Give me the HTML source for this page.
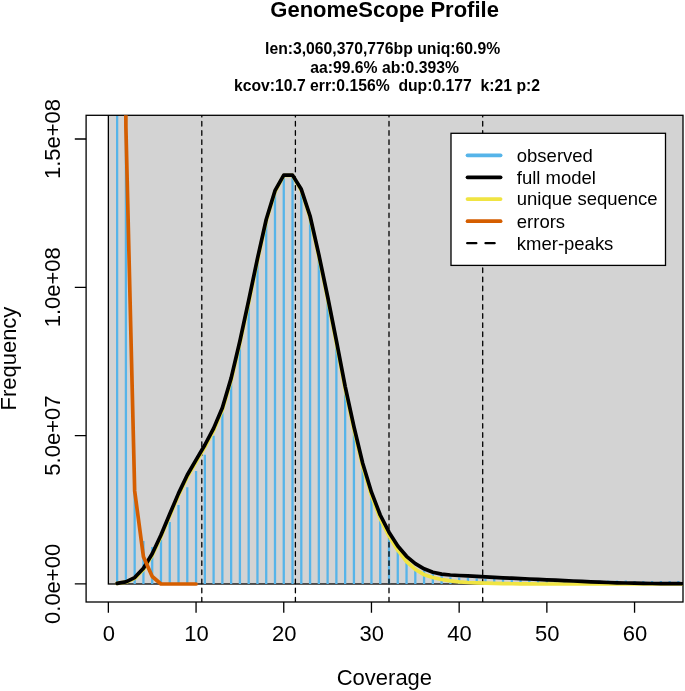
<!DOCTYPE html>
<html><head><meta charset="utf-8"><title>GenomeScope Profile</title>
<style>html,body{margin:0;padding:0;background:#fff;}body{width:685px;height:691px;overflow:hidden;font-family:"Liberation Sans", sans-serif;}svg{display:block;will-change:transform;}</style>
</head><body>
<svg width="685" height="691" viewBox="0 0 685 691" font-family='"Liberation Sans", sans-serif'>
<rect width="685" height="691" fill="#fff"/>
<defs><clipPath id="pr"><rect x="86.1" y="115.3" width="596.9" height="486.7"/></clipPath></defs>
<g clip-path="url(#pr)">
<rect x="108.36" y="95.3" width="594.64" height="488.70" fill="#D3D3D3" stroke="#000" stroke-width="1.3"/>
<path d="M117.13 584.0V-100.00M125.90 584.0V-100.00M134.67 584.0V483.00M143.44 584.0V540.90M152.21 584.0V546.90M160.98 584.0V539.50M169.75 584.0V522.10M178.52 584.0V505.10M187.29 584.0V487.20M196.06 584.0V471.10M204.83 584.0V454.80M213.60 584.0V435.70M222.37 584.0V412.40M231.14 584.0V379.60M239.91 584.0V342.50M248.68 584.0V301.90M257.45 584.0V260.10M266.22 584.0V221.00M274.99 584.0V192.20M283.76 584.0V176.70M292.53 584.0V176.60M301.30 584.0V190.80M310.07 584.0V217.50M318.84 584.0V256.20M327.61 584.0V298.00M336.38 584.0V342.20M345.15 584.0V387.80M353.92 584.0V428.20M362.69 584.0V464.70M371.46 584.0V493.70M380.23 584.0V516.50M389.00 584.0V536.00M397.77 584.0V551.50M406.54 584.0V562.00M415.31 584.0V568.50M424.08 584.0V570.50M432.85 584.0V573.50M441.62 584.0V575.80M450.39 584.0V577.20M459.16 584.0V577.60M467.93 584.0V578.00M476.70 584.0V578.40M485.47 584.0V578.80M494.24 584.0V579.10M503.01 584.0V579.30M511.78 584.0V579.50M520.55 584.0V579.90M529.32 584.0V579.90M538.09 584.0V579.90M546.86 584.0V579.90M555.63 584.0V579.90M564.40 584.0V579.90M573.17 584.0V579.90M581.94 584.0V579.90M590.71 584.0V580.40M599.48 584.0V580.40M608.25 584.0V580.40M617.02 584.0V580.40M625.79 584.0V580.40M634.56 584.0V580.90M643.33 584.0V580.90M652.10 584.0V580.90M660.87 584.0V580.90M669.64 584.0V580.90M678.41 584.0V580.90M687.18 584.0V580.90M695.95 584.0V580.90" stroke="#56B4E9" stroke-width="2.29" fill="none"/>
</g>
<rect x="86.1" y="115.3" width="596.90" height="486.70" fill="none" stroke="#000" stroke-width="1.3"/>
<g clip-path="url(#pr)" fill="none" stroke-linejoin="round" stroke-linecap="round">
<line x1="201.8" y1="602.0" x2="201.8" y2="115.3" stroke="#000" stroke-width="1.3" stroke-dasharray="4.576 4.576" stroke-linecap="round"/>
<line x1="295.4" y1="602.0" x2="295.4" y2="115.3" stroke="#000" stroke-width="1.3" stroke-dasharray="4.576 4.576" stroke-linecap="round"/>
<line x1="389.0" y1="602.0" x2="389.0" y2="115.3" stroke="#000" stroke-width="1.3" stroke-dasharray="4.576 4.576" stroke-linecap="round"/>
<line x1="482.7" y1="602.0" x2="482.7" y2="115.3" stroke="#000" stroke-width="1.3" stroke-dasharray="4.576 4.576" stroke-linecap="round"/>
<polyline points="117.13,583.40 125.90,582.20 134.67,578.40 143.44,569.40 152.21,555.30 160.98,536.65 169.75,515.80 178.52,495.30 187.29,477.00 196.06,461.83 204.83,447.07 213.60,430.50 222.37,409.82 231.14,380.25 239.91,343.18 248.68,302.60 257.45,260.37 266.22,220.83 274.99,191.60 283.76,175.50 292.53,175.40 301.30,190.20 310.07,217.45 318.84,256.70 327.61,298.70 336.38,343.10 345.15,388.90 353.92,429.50 362.69,466.20 371.46,495.50 380.23,518.60 389.00,536.10 397.77,550.20 406.54,561.50 415.31,569.30 424.08,574.70 432.85,577.50 441.62,579.50 450.39,580.90 459.16,581.90 467.93,582.50 476.70,582.90 485.47,583.20 494.24,583.45 503.01,583.60 511.78,583.75 520.55,583.85 529.32,583.90 538.09,584.00 546.86,584.00 555.63,584.00 564.40,584.00 573.17,584.00 581.94,584.00 590.71,584.00 599.48,584.00 608.25,584.00 617.02,584.00 625.79,584.00 634.56,584.00 643.33,584.00 652.10,584.00 660.87,584.00 669.64,584.00 678.41,584.00 687.18,584.00 695.95,584.00 704.72,584.00" stroke="#F0E442" stroke-width="3.7"/>
<polyline points="117.13,583.40 125.90,581.90 134.67,577.60 143.44,568.20 152.21,553.80 160.98,535.00 169.75,514.00 178.52,493.40 187.29,475.00 196.06,459.80 204.83,445.00 213.60,428.40 222.37,407.70 231.14,378.10 239.91,341.00 248.68,300.40 257.45,258.60 266.22,219.50 274.99,190.70 283.76,175.20 292.53,175.10 301.30,189.30 310.07,216.00 318.84,254.70 327.61,296.50 336.38,340.70 345.15,386.30 353.92,426.70 362.69,463.20 371.46,492.20 380.23,515.00 389.00,532.20 397.77,546.00 406.54,556.30 415.31,563.60 424.08,568.80 432.85,572.20 441.62,574.10 450.39,575.00 459.16,575.50 467.93,575.90 476.70,576.30 485.47,576.90 494.24,577.40 503.01,577.80 511.78,578.20 520.55,578.60 529.32,579.00 538.09,579.40 546.86,579.80 555.63,580.20 564.40,580.60 573.17,581.00 581.94,581.40 590.71,581.80 599.48,582.20 608.25,582.50 617.02,582.80 625.79,583.00 634.56,583.20 643.33,583.35 652.10,583.50 660.87,583.60 669.64,583.65 678.41,583.70 687.18,583.75 695.95,583.80 704.72,583.85" stroke="#000" stroke-width="3.7"/>
<polyline points="117.13,-3000.00 125.90,127.00 134.67,490.90 143.44,556.80 152.21,576.50 160.98,584.00 169.75,584.00 178.52,584.00 187.29,584.00 196.06,584.00" stroke="#D55E00" stroke-width="3.7"/>
</g>
<path d="M108.36 602.0V612.8M196.06 602.0V612.8M283.76 602.0V612.8M371.46 602.0V612.8M459.16 602.0V612.8M546.86 602.0V612.8M634.56 602.0V612.8M86.1 583.90H74.8M86.1 435.60H74.8M86.1 287.30H74.8M86.1 139.00H74.8" stroke="#000" stroke-width="1.3" fill="none"/>
<text transform="translate(108.76 641.30) scale(1 1.04)" font-size="22" text-anchor="middle">0</text>
<text transform="translate(196.46 641.30) scale(1 1.04)" font-size="22" text-anchor="middle">10</text>
<text transform="translate(284.16 641.30) scale(1 1.04)" font-size="22" text-anchor="middle">20</text>
<text transform="translate(371.86 641.30) scale(1 1.04)" font-size="22" text-anchor="middle">30</text>
<text transform="translate(459.56 641.30) scale(1 1.04)" font-size="22" text-anchor="middle">40</text>
<text transform="translate(547.26 641.30) scale(1 1.04)" font-size="22" text-anchor="middle">50</text>
<text transform="translate(634.96 641.30) scale(1 1.04)" font-size="22" text-anchor="middle">60</text>
<text transform="translate(60.20 583.90) rotate(-90) scale(1 1.04)" font-size="22" text-anchor="middle">0.0e+00</text>
<text transform="translate(60.20 435.60) rotate(-90) scale(1 1.04)" font-size="22" text-anchor="middle">5.0e+07</text>
<text transform="translate(60.20 287.30) rotate(-90) scale(1 1.04)" font-size="22" text-anchor="middle">1.0e+08</text>
<text transform="translate(60.20 139.00) rotate(-90) scale(1 1.04)" font-size="22" text-anchor="middle">1.5e+08</text>
<text transform="translate(384.40 685.00) scale(1 1.04)" font-size="22" text-anchor="middle">Coverage</text>
<text transform="translate(16.20 358.60) rotate(-90) scale(1 1.04)" font-size="22" text-anchor="middle">Frequency</text>
<text transform="translate(384.60 16.70) scale(1 1.04)" font-size="22" font-weight="bold" text-anchor="middle">GenomeScope Profile</text>
<text transform="translate(382.60 53.70) scale(1 1.04)" font-size="15.75" font-weight="bold" text-anchor="middle">len:3,060,370,776bp uniq:60.9%</text>
<text transform="translate(384.60 72.90) scale(1 1.04)" font-size="15.75" font-weight="bold" text-anchor="middle">aa:99.6% ab:0.393%</text>
<text transform="translate(387.00 91.10) scale(1 1.04)" font-size="15.75" font-weight="bold" text-anchor="middle" xml:space="preserve">kcov:10.7 err:0.156%  dup:0.177  k:21 p:2</text>
<rect x="451.0" y="133.3" width="214.50" height="132.10" fill="#fff" stroke="#000" stroke-width="1.3"/>
<line x1="467.5" y1="155.3" x2="500.6" y2="155.3" stroke="#56B4E9" stroke-width="3.7" stroke-linecap="round"/>
<text transform="translate(516.80 161.60) scale(1 1.04)" font-size="18.5">observed</text>
<line x1="467.5" y1="177.3" x2="500.6" y2="177.3" stroke="#000" stroke-width="3.7" stroke-linecap="round"/>
<text transform="translate(516.80 183.60) scale(1 1.04)" font-size="18.5">full model</text>
<line x1="467.5" y1="199.1" x2="500.6" y2="199.1" stroke="#F0E442" stroke-width="3.7" stroke-linecap="round"/>
<text transform="translate(516.80 205.40) scale(1 1.04)" font-size="18.5">unique sequence</text>
<line x1="467.5" y1="221.2" x2="500.6" y2="221.2" stroke="#D55E00" stroke-width="3.7" stroke-linecap="round"/>
<text transform="translate(516.80 227.50) scale(1 1.04)" font-size="18.5">errors</text>
<line x1="467.2" y1="243.2" x2="500.6" y2="243.2" stroke="#000" stroke-width="2.29" stroke-dasharray="9.15 9.15" stroke-linecap="round"/>
<text transform="translate(516.80 249.50) scale(1 1.04)" font-size="18.5">kmer-peaks</text>
</svg>
</body></html>
